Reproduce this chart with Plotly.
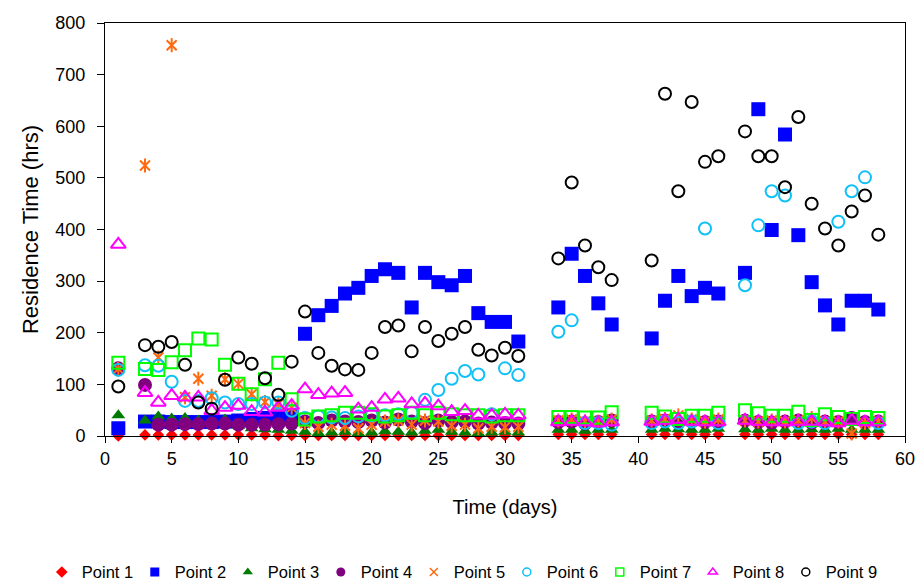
import plotly.graph_objects as go

# ---- data ----
days = [1, 3, 4, 5, 6, 7, 8, 9, 10, 11, 12, 13, 14, 15, 16, 17, 18, 19, 20, 21, 22,
        23, 24, 25, 26, 27, 28, 29, 30, 31, 34, 35, 36, 37, 38, 41, 42, 43, 44, 45,
        46, 48, 49, 50, 51, 52, 53, 54, 55, 56, 57, 58]

point1 = [0, 2, 2, 2, 2, 2, 2, 2, 2, 2, 2, 1, 1, 1, 1, 1, 1, 1, 1, 1, 1,
          1, 1, 1, 1, 1, 1, 1, 1, 1, 3, 3, 3, 3, 3, 3, 3, 3, 3, 3,
          3, 3, 3, 3, 3, 3, 3, 3, 3, 3, 3, 3]
point2 = [15, 28, 28, 27, 27, 27, 27, 28, 30, 33, 35, 38, 40, 198, 234, 252, 276, 287, 310, 323, 316,
          249, 316, 298, 292, 310, 238, 221, 221, 183, 249, 353, 310, 257, 216, 189, 262, 310, 271, 287,
          276, 316, 633, 399, 584, 389, 298, 253, 216, 262, 262, 245]
point3 = [40, 30, 38, 34, 35, 30, 27, 32, 20, 15, 13, 12, 10, 8, 6, 7, 8, 6, 7, 9, 8,
          7, 10, 12, 8, 7, 6, 7, 8, 7, 12, 12, 10, 12, 12, 12, 14, 13, 12, 12,
          14, 13, 12, 14, 12, 12, 13, 12, 14, 12, 12, 12]
point4 = [131, 99, 22, 22, 23, 23, 24, 24, 22, 22, 22, 23, 24, 28, 25, 30, 28, 27, 30, 26, 32,
          28, 25, 30, 27, 28, 24, 26, 25, 24, 27, 28, 24, 27, 30, 28, 30, 26, 28, 27,
          28, 30, 27, 26, 28, 30, 26, 28, 27, 35, 27, 28]
point5 = [130, 524, 152, 757, 75, 111, 78, 110, 101, 81, 66, 62, 55, 25, 18, 22, 20, 15, 22, 28, 30,
          22, 30, 28, 20, 22, 15, 18, 17, 18, 30, 32, 28, 28, 32, 30, 33, 40, 32, 28,
          32, 30, 28, 30, 28, 30, 35, 28, 28, 5, 25, 28]
point6 = [128, 137, 136, 105, 68, 68, 73, 65, 62, 62, 65, 65, 49, 35, 38, 36, 35, 38, 40, 40, 42,
          45, 70, 89, 111, 126, 119, 42, 131, 118, 202, 224, 25, 25, 22, 25, 28, 25, 28, 402,
          25, 292, 408, 474, 466, 25, 28, 25, 415, 474, 501, 25]
point7 = [142, 130, 128, 143, 166, 189, 187, 138, 101, 81, 110, 142, 71, 32, 38, 40, 45, 45, 42, 38, 40,
          45, 40, 45, 42, 40, 40, 38, 40, 40, 37, 37, 36, 36, 46, 45, 38, 33, 39, 39,
          45, 50, 44, 39, 39, 47, 31, 42, 37, 33, 37, 35]
point8 = [371, 84, 65, 78, 75, 75, 49, 55, 59, 47, 46, 55, 59, 91, 80, 83, 84, 52, 55, 71, 73,
          62, 63, 58, 47, 49, 40, 40, 42, 40, 27, 28, 27, 25, 27, 28, 30, 32, 28, 27,
          27, 30, 28, 27, 27, 28, 28, 27, 25, 30, 27, 27]
point9 = [96, 176, 173, 182, 138, 65, 53, 109, 152, 140, 112, 80, 144, 241, 161, 136, 129, 128, 161, 211, 214,
          164, 211, 184, 198, 211, 167, 156, 171, 155, 344, 491, 369, 327, 302, 340, 663, 474, 647, 531,
          542, 590, 542, 542, 482, 618, 450, 402, 369, 435, 466, 390]

names = ["Point 1", "Point 2", "Point 3", "Point 4", "Point 5",
         "Point 6", "Point 7", "Point 8", "Point 9"]
series = [point1, point2, point3, point4, point5, point6, point7, point8, point9]

# ---- styles ----
colors = ["#FF0000", "#0000FF", "#007A00", "#800080", "#FF6A10",
          "#10C0F8", "#00FF00", "#FF00FF", "#000000"]
symbols = ["diamond", "square", "triangle-up", "circle", "x-thin-open",
           "circle-open", "square-open", "triangle-up-open", "circle-open"]
sizes = [9, 14, 12, 14, 10, 12, 12, 13, 12]
lwidths = [0, 0, 0, 0, 2, 2, 2, 2, 2]
leg_sizes = [9, 9, 9, 9, 8, 8, 8, 8, 8]

fig = go.Figure()
for name, ys, c, s, sz, lw in zip(names, series, colors, symbols, sizes, lwidths):
    fig.add_trace(go.Scatter(
        x=days, y=ys, mode="markers", name=name, showlegend=False,
        cliponaxis=False,
        marker=dict(symbol=s, size=sz, color=c,
                    line=dict(width=lw, color=c))))
    if name == "Point 5":
        # vertical stroke to make the asterisk
        fig.add_trace(go.Scatter(
            x=days, y=ys, mode="markers", showlegend=False, cliponaxis=False,
            hoverinfo="skip",
            marker=dict(symbol="line-ns-open", size=sz, color=c,
                        line=dict(width=lw, color=c))))

# legend-only entries (small symbols as in reference)
for name, c, s, sz, lw in zip(names, colors, symbols, leg_sizes, lwidths):
    fig.add_trace(go.Scatter(
        x=[None], y=[None], mode="markers", name=name, showlegend=True,
        marker=dict(symbol=s, size=sz, color=c,
                    line=dict(width=0 if lw == 0 else 1.5, color=c))))

font_family = "Arial, Liberation Sans, sans-serif"

fig.update_layout(
    width=918, height=585, autosize=False,
    margin=dict(l=105, r=13, t=23, b=149, autoexpand=False),
    paper_bgcolor="white", plot_bgcolor="white",
    font=dict(family=font_family, color="black", size=16),
    showlegend=True,
    legend=dict(orientation="h", x=-0.079, xanchor="left", y=-0.33, yanchor="middle",
                font=dict(size=16.5, family=font_family), itemwidth=30,
                entrywidth=48, entrywidthmode="pixels",
                bgcolor="rgba(0,0,0,0)", tracegroupgap=0),
    xaxis=dict(range=[0, 60], tick0=0, dtick=5, ticks="outside", ticklen=6,
               tickcolor="black", showline=True, linecolor="black", linewidth=1,
               mirror=True, showgrid=False, zeroline=False,
               tickfont=dict(size=18, family=font_family),
               title=dict(text="Time (days)", font=dict(size=20, family=font_family),
                          standoff=32)),
    yaxis=dict(range=[0, 800], tick0=0, dtick=100, ticks="outside", ticklen=7,
               tickcolor="black", showline=True, linecolor="black", linewidth=1,
               mirror=True, showgrid=False, zeroline=False,
               tickfont=dict(size=18, family=font_family), ticklabelstandoff=8,
               title=dict(text="Residence Time (hrs)", font=dict(size=22, family=font_family),
                          standoff=10)),
)

fig.write_html("out.html")
